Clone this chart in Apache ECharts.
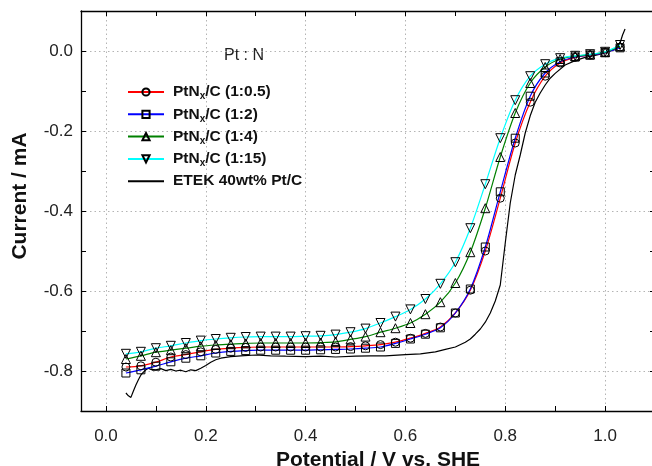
<!DOCTYPE html>
<html><head><meta charset="utf-8">
<script src="https://cdn.jsdelivr.net/npm/echarts@6/dist/echarts.min.js"></script>
<style>html,body{margin:0;padding:0;background:#fff}#c{width:652px;height:466px}</style>
</head><body><div id="c"></div>
<script>
// Marker potentials (V vs. SHE)
const markerPotential = [0.04,0.07,0.10,0.13,0.16,0.19,0.22,0.25,0.28,0.31,0.34,0.37,0.40,0.43,0.46,0.49,0.52,0.55,0.58,0.61,0.64,0.67,0.70,0.73,0.76,0.79,0.82,0.85,0.88,0.91,0.94,0.97,1.00,1.03];
// PtNx/C (1:0.5) – red, circles
const currentRatio0_5 = [-0.790,-0.787,-0.778,-0.765,-0.759,-0.752,-0.746,-0.743,-0.741,-0.740,-0.740,-0.740,-0.740,-0.740,-0.740,-0.739,-0.737,-0.734,-0.728,-0.718,-0.706,-0.690,-0.655,-0.598,-0.500,-0.368,-0.230,-0.128,-0.063,-0.030,-0.016,-0.010,-0.004,0.010];
// PtNx/C (1:2) – blue, squares
const currentRatio2 = [-0.805,-0.797,-0.788,-0.777,-0.768,-0.762,-0.755,-0.751,-0.749,-0.748,-0.748,-0.748,-0.748,-0.747,-0.746,-0.745,-0.743,-0.740,-0.731,-0.720,-0.708,-0.692,-0.655,-0.595,-0.490,-0.352,-0.218,-0.113,-0.055,-0.027,-0.015,-0.010,-0.004,0.008];
// PtNx/C (1:4) – green, up triangles
const currentRatio4 = [-0.770,-0.762,-0.753,-0.748,-0.743,-0.738,-0.735,-0.733,-0.731,-0.730,-0.730,-0.730,-0.730,-0.729,-0.727,-0.721,-0.714,-0.703,-0.693,-0.680,-0.658,-0.628,-0.580,-0.503,-0.393,-0.265,-0.155,-0.080,-0.040,-0.020,-0.013,-0.009,-0.003,0.012];
// PtNx/C (1:15) – cyan, down triangles
const currentRatio15 = [-0.757,-0.752,-0.743,-0.737,-0.730,-0.724,-0.720,-0.717,-0.715,-0.714,-0.714,-0.714,-0.713,-0.712,-0.709,-0.703,-0.694,-0.680,-0.664,-0.646,-0.620,-0.582,-0.528,-0.443,-0.333,-0.218,-0.123,-0.063,-0.033,-0.018,-0.012,-0.008,-0.002,0.015];
// ETEK 40wt% Pt/C – black
const etekPotential = [0.040,0.045,0.050,0.055,0.060,0.065,0.070,0.075,0.080,0.085,0.090,0.100,0.110,0.120,0.130,0.140,0.150,0.160,0.170,0.180,0.190,0.200,0.210,0.220,0.230,0.240,0.250,0.270,0.300,0.330,0.360,0.400,0.430,0.460,0.500,0.530,0.560,0.600,0.630,0.660,0.680,0.700,0.720,0.730,0.740,0.750,0.760,0.770,0.780,0.790,0.800,0.810,0.820,0.830,0.840,0.850,0.860,0.870,0.880,0.890,0.900,0.920,0.940,0.960,0.980,1.000,1.020,1.030,1.035,1.040];
const etekCurrent = [-0.855,-0.862,-0.866,-0.850,-0.835,-0.822,-0.810,-0.803,-0.797,-0.793,-0.796,-0.797,-0.794,-0.799,-0.796,-0.800,-0.798,-0.802,-0.797,-0.799,-0.793,-0.786,-0.778,-0.772,-0.768,-0.766,-0.764,-0.762,-0.760,-0.762,-0.763,-0.764,-0.763,-0.765,-0.763,-0.762,-0.762,-0.759,-0.757,-0.752,-0.746,-0.740,-0.728,-0.720,-0.708,-0.695,-0.678,-0.655,-0.625,-0.585,-0.480,-0.380,-0.310,-0.260,-0.205,-0.162,-0.128,-0.105,-0.085,-0.068,-0.056,-0.035,-0.024,-0.016,-0.011,-0.005,0.004,0.020,0.040,0.055];

const seriesNames = ['PtNx/C (1:0.5)','PtNx/C (1:2)','PtNx/C (1:4)','PtNx/C (1:15)','ETEK 40wt% Pt/C'];
const xTickLabels = ['0.0','0.2','0.4','0.6','0.8','1.0'];
const yTickLabels = ['0.0','-0.2','-0.4','-0.6','-0.8'];

const FONT = '"Liberation Sans", Arial, sans-serif';
function fmt(v){ if (Math.abs(v) < 1e-9) v = 0; return v.toFixed(1); }
function zip(xs, ys){ return xs.map((x,i)=>[x, ys[i]]); }

const axisLineStyle = {color:'#000', width:1.3};
const baseX = {type:'value', min:-0.05, max:1.1, splitNumber:10,
  axisLine:{show:true, onZero:false, lineStyle:axisLineStyle},
  axisTick:{show:true, inside:true, length:5, lineStyle:{color:'#000', width:1}},
  splitLine:{show:false}};
const baseY = {type:'value', min:-0.9, max:0.1, interval:0.1,
  axisLine:{show:true, onZero:false, lineStyle:axisLineStyle},
  axisTick:{show:true, inside:true, length:5, lineStyle:{color:'#000', width:1}},
  splitLine:{show:false}};

const markerStyle = {color:'rgba(255,255,255,0)', borderColor:'#000', borderWidth:1};
const downTri = 'path://M0,0 L20,0 L10,17.3 Z';

function markerSeries(name, data, color, symbol, size){
  return {name, type:'line', data: zip(markerPotential, data), symbol, symbolSize:size,
    showAllSymbol:true, smooth:0.3, lineStyle:{color, width:1.2}, itemStyle:markerStyle,
    color, emphasis:{disabled:true}, z:3};
}

const chart = echarts.init(document.getElementById('c'), null, {renderer:'canvas'});
chart.setOption({
  animation:false,
  backgroundColor:'#fff',
  textStyle:{fontFamily:FONT},
  grid:{left:81, top:11, width:574, height:400, containLabel:false, outerBoundsMode:'none'},
  xAxis:[
    Object.assign({}, baseX, {position:'bottom',
      axisLabel:{show:true, margin:17, fontSize:17, color:'#222', fontFamily:FONT,
        formatter:v => xTickLabels.includes(fmt(v)) && Math.abs(v*10-Math.round(v*10))<1e-6 ? fmt(v) : ''},
      name:'Potential / V vs. SHE', nameLocation:'middle', nameGap:33,
      nameTextStyle:{fontSize:21, fontWeight:'bold', color:'#111', fontFamily:FONT, padding:[0,0,0,20]}}),
    Object.assign({}, baseX, {position:'top', axisLabel:{show:false}}),
    {type:'value', min:-0.05, max:1.1, splitNumber:5, position:'bottom', show:true,
      axisLine:{show:false}, axisTick:{show:false}, axisLabel:{show:false},
      splitLine:{show:true, lineStyle:{color:'#b4b4b4', type:[1.5,3], width:1}}}
  ],
  yAxis:[
    Object.assign({}, baseY, {position:'left',
      axisLabel:{show:true, margin:8, fontSize:17, color:'#222', fontFamily:FONT,
        formatter:v => yTickLabels.includes(fmt(v)) ? fmt(v) : ''},
      name:'Current / mA', nameLocation:'middle', nameGap:50,
      nameTextStyle:{fontSize:21, fontWeight:'bold', color:'#111', fontFamily:FONT, padding:[0,0,0,30]}}),
    Object.assign({}, baseY, {position:'right', axisLabel:{show:false}}),
    {type:'value', min:-0.9, max:0.1, splitNumber:5, position:'left', show:true,
      axisLine:{show:false}, axisTick:{show:false}, axisLabel:{show:false},
      splitLine:{show:true, lineStyle:{color:'#b4b4b4', type:[1.5,3], width:1}}}
  ],
  legend:{orient:'vertical', left:127, top:84, padding:0, itemWidth:36, itemHeight:9, itemGap:4.8,
    data:seriesNames.map((n,i) => i === 4 ? {name:n, itemStyle:{opacity:0}} : n),
    textStyle:{fontFamily:FONT, fontSize:15.5, fontWeight:'bold', color:'#111', padding:[0,0,0,4],
      rich:{b:{fontSize:15.5, fontWeight:'bold', color:'#111', fontFamily:FONT},
            sub:{fontSize:10, fontWeight:'bold', color:'#111', fontFamily:FONT, padding:[9,0,0,0]}}},
    formatter:n => n.startsWith('PtNx') ? '{b|PtN}{sub|x}{b|' + n.slice(4) + '}' : '{b|' + n + '}',
    selectedMode:false},
  graphic:[{type:'text', left:224, top:48, style:{text:'Pt : N', font:'16px ' + FONT, fill:'#222'}}],
  series:[
    {name:seriesNames[4], type:'line', data:zip(etekPotential, etekCurrent), symbol:'none',
      lineStyle:{color:'#000', width:1.2}, color:'#000', z:2, emphasis:{disabled:true}},
    markerSeries(seriesNames[0], currentRatio0_5, '#ff0000', 'circle', 8),
    markerSeries(seriesNames[1], currentRatio2, '#0000ff', 'rect', 8),
    markerSeries(seriesNames[2], currentRatio4, '#008000', 'triangle', 9),
    markerSeries(seriesNames[3], currentRatio15, '#00ffff', downTri, 9)
  ]
});
</script></body></html>
